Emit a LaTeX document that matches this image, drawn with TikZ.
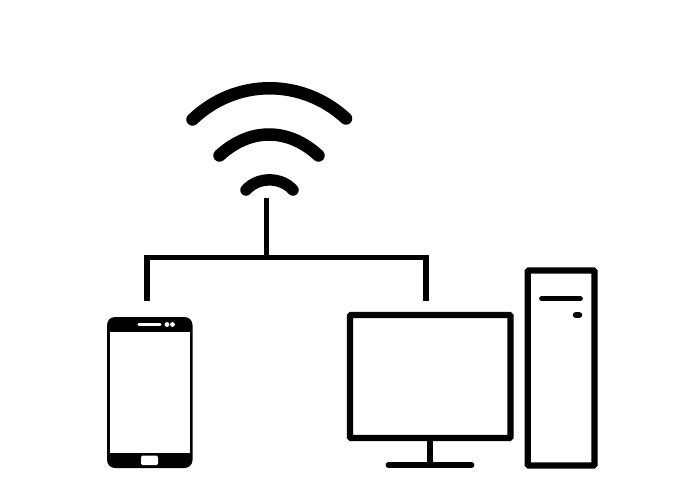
\documentclass[tikz,border=0pt]{standalone}
\tikzset{
  wave/.style={line width=12.5pt,line cap=round},
  link/.style={line width=5.2pt},
  frame/.style={line width=6.2pt,rounded corners=1pt},
  bar/.style={line width=5.8pt,line cap=round},
}
\begin{document}
\begin{tikzpicture}[x=1pt,y=-1pt]
\useasboundingbox (0,0) rectangle (682,500);
% wifi
\draw[wave] (192.5,119.5) .. controls (236,78) and (302,78) .. (346,118.5);
\draw[wave] (219.5,155.5) .. controls (250,127.5) and (288,127.5) .. (318.5,155.5);
\draw[wave,line width=11.5pt] (246,190) .. controls (258,176.5) and (281,176.5) .. (293,190);
% tree
\coordinate (top) at (266.5,198);
\coordinate (junction) at (266.5,257.5);
\coordinate (left) at (147,301);
\coordinate (right) at (426,301);
\draw[link] (top) -- (junction);
\draw[link,line join=miter] (left) |- (junction) -| (right);
% phone
\fill[rounded corners=8pt] (107,317) rectangle (192.5,468);
\fill[white] (110,332) rectangle (190,453);
\fill[white,rounded corners=1.5pt] (141,455.5) rectangle (158,465);
\draw[white,line width=3.4pt,line cap=round] (139,324.5) -- (160,324.5);
\fill[white] (167,324.5) circle (2.4pt) (172.5,324.5) circle (2.4pt);
% monitor
\draw[frame] (350,315) rectangle (510.5,438);
\draw[line width=5.8pt] (430,438) -- (430,465);
\draw[bar] (388.5,465) -- (471.5,465);
% tower
\draw[frame] (527.7,270.5) rectangle (594.5,465.5);
\draw[bar] (542,298.5) -- (580,298.5);
\draw[bar,line width=6.5pt] (576,315) -- (579,315);
\end{tikzpicture}
\end{document}
